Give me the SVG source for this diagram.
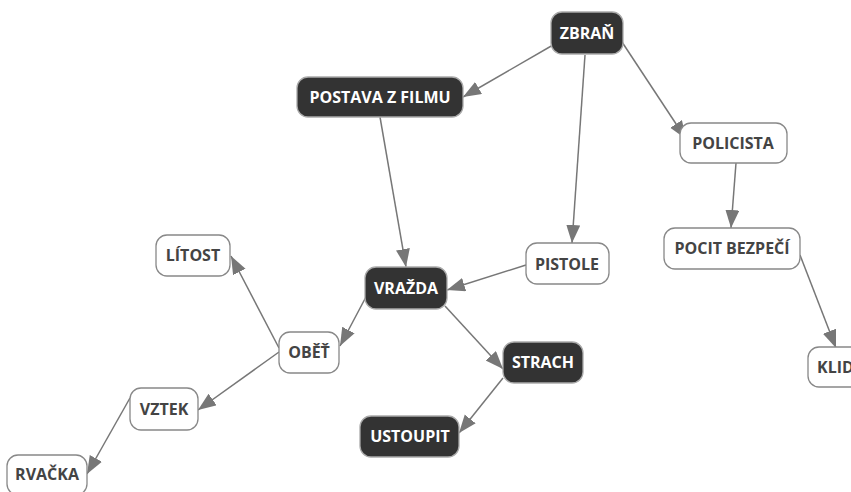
<svg xmlns="http://www.w3.org/2000/svg" width="851" height="492" viewBox="0 0 851 492">
<style>
.l rect{fill:#fff;stroke:#888;stroke-width:1.3}
.d rect{fill:#333;stroke:#aaa;stroke-width:1.3}
text{font-family:"Open Sans","DejaVu Sans",sans-serif;font-weight:bold;font-size:16px;text-anchor:middle;dominant-baseline:central}
.l text{fill:#444}
.d text{fill:#fff}
#edges line{stroke:#777;stroke-width:1.5}
</style>
<defs>
<marker id="a" markerUnits="userSpaceOnUse" markerWidth="20" markerHeight="16" refX="18" refY="7" orient="auto">
<path d="M0,0 L18,7 L0,14 Z" fill="#777"/>
</marker>
</defs>
<rect width="851" height="492" fill="#fff"/>
<g id="edges">
<line x1="553" y1="45" x2="463" y2="97" marker-end="url(#a)"/>
<line x1="585" y1="55" x2="572" y2="243" marker-end="url(#a)"/>
<line x1="622" y1="42" x2="686" y2="139" marker-end="url(#a)"/>
<line x1="380" y1="117" x2="406" y2="267" marker-end="url(#a)"/>
<line x1="526" y1="265" x2="447" y2="290" marker-end="url(#a)"/>
<line x1="736" y1="163" x2="731" y2="228" marker-end="url(#a)"/>
<line x1="800" y1="255" x2="836" y2="348" marker-end="url(#a)"/>
<line x1="367" y1="295" x2="340" y2="346" marker-end="url(#a)"/>
<line x1="445" y1="306" x2="503" y2="369" marker-end="url(#a)"/>
<line x1="503" y1="378" x2="459" y2="433" marker-end="url(#a)"/>
<line x1="279" y1="348" x2="231" y2="256" marker-end="url(#a)"/>
<line x1="279" y1="352" x2="198" y2="410" marker-end="url(#a)"/>
<line x1="130" y1="398" x2="87" y2="474" marker-end="url(#a)"/>
</g>
<g id="zbran" class="d"><rect x="551" y="12" width="72" height="42" rx="11"/><text x="587" y="33">ZBRAŇ</text></g>
<g id="postava" class="d"><rect x="297" y="77" width="166" height="40" rx="11"/><text x="380" y="97">POSTAVA Z FILMU</text></g>
<g id="policista" class="l"><rect x="680" y="123" width="107" height="40" rx="11"/><text x="733" y="143">POLICISTA</text></g>
<g id="pocit" class="l"><rect x="664" y="228" width="136" height="41" rx="11"/><text x="732" y="248">POCIT BEZPEČÍ</text></g>
<g id="klid" class="l"><rect x="808" y="347" width="70" height="40" rx="11"/><text x="817" y="367" style="text-anchor:start">KLID</text></g>
<g id="pistole" class="l"><rect x="526" y="243" width="83" height="41" rx="11"/><text x="567" y="264">PISTOLE</text></g>
<g id="vrazda" class="d"><rect x="365" y="267" width="82" height="42" rx="11"/><text x="406" y="288">VRAŽDA</text></g>
<g id="strach" class="d"><rect x="503" y="342" width="80" height="41" rx="11"/><text x="543" y="362">STRACH</text></g>
<g id="ustoupit" class="d"><rect x="360" y="416" width="99" height="41" rx="11"/><text x="410" y="436">USTOUPIT</text></g>
<g id="litost" class="l"><rect x="156" y="235" width="74" height="41" rx="11"/><text x="193" y="255">LÍTOST</text></g>
<g id="obet" class="l"><rect x="279" y="332" width="60" height="41" rx="11"/><text x="309" y="352">OBĚŤ</text></g>
<g id="vztek" class="l"><rect x="130" y="388" width="68" height="42" rx="11"/><text x="164" y="409">VZTEK</text></g>
<g id="rvacka" class="l"><rect x="7" y="455" width="80" height="40" rx="11"/><text x="47" y="474">RVAČKA</text></g>
</svg>
